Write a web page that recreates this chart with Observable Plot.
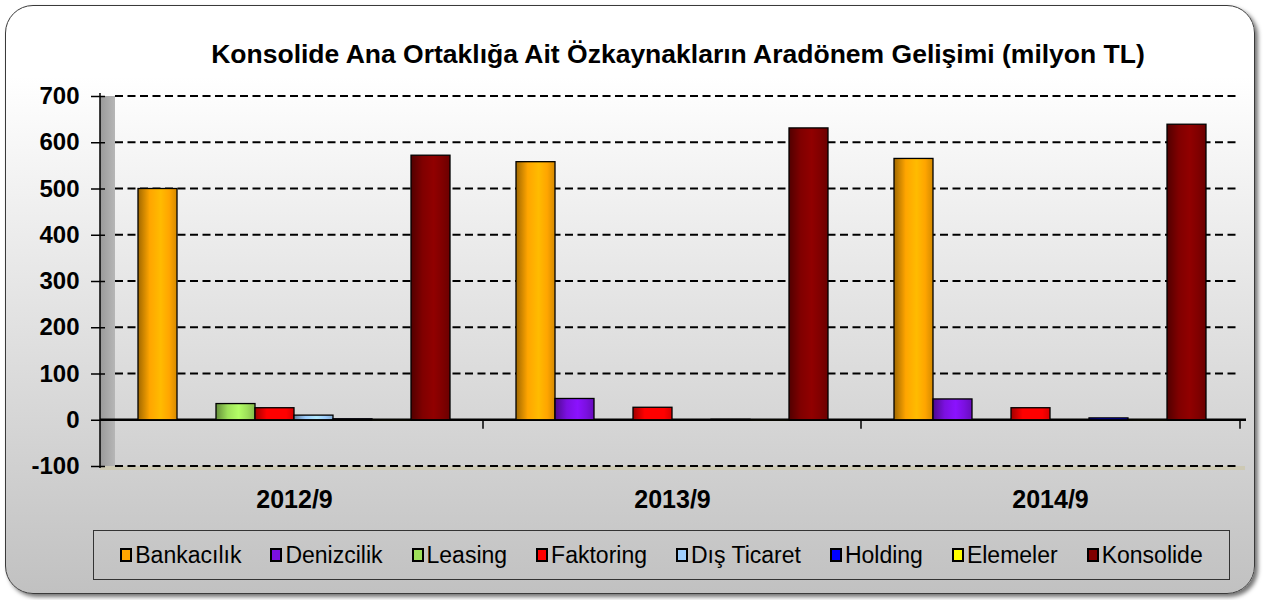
<!DOCTYPE html>
<html>
<head>
<meta charset="utf-8">
<script src="https://cdn.jsdelivr.net/npm/d3@7"></script>
<script src="https://cdn.jsdelivr.net/npm/@observablehq/plot@0.6"></script>
<style>
  html, body { margin: 0; padding: 0; background: #ffffff; }
  #wrap { position: relative; width: 1266px; height: 600px; overflow: hidden; font-family: "Liberation Sans", Arial, sans-serif; }
  #panel { position: absolute; left: 5px; top: 5px; width: 1250px; height: 589px; box-sizing: border-box;
           border: 1.5px solid #3a3a3a; border-radius: 28px;
           background: linear-gradient(180deg, #ffffff 0%, #ffffff 12%, #c1c1c1 100%);
           box-shadow: 3px 3px 4px rgba(0,0,0,0.55); }
  #chart { position: absolute; left: 0; top: 0; }
  #title { position: absolute; left: 178px; width: 1000px; top: 41px; text-align: center;
           font-size: 26.5px; line-height: 26px; font-weight: bold; color: #000; white-space: nowrap; }
  #legend { position: absolute; left: 93px; top: 530px; width: 1137px; height: 50px; box-sizing: border-box;
            border: 1.3px solid #333; display: flex; align-items: center; justify-content: center; gap: 29px; }
  .item { display: flex; align-items: center; font-size: 23px; color: #000; white-space: nowrap; }
  .sw { width: 8px; height: 10px; border: 2px solid #000; margin-right: 3px; }
</style>
</head>
<body>
<div id="wrap">
  <div id="panel"></div>
  <div id="chart"></div>
  <div id="title">Konsolide Ana Ortaklığa Ait Özkaynakların Aradönem Gelişimi (milyon TL)</div>
  <div id="legend"></div>
</div>
<script>
const periods = ["2012/9", "2013/9", "2014/9"];
const series = ["Bankacılık", "Denizcilik", "Leasing", "Faktoring", "Dış Ticaret", "Holding", "Elemeler", "Konsolide"];
const bankacilik = [500, 558, 565];
const denizcilik = [0, 46, 45];
const leasing = [35, 0, 0];
const faktoring = [26, 27, 26];
const disTicaret = [10, 0, 0];
const holding = [2, 1, 4];
const elemeler = [-1, -1, -1];
const konsolide = [572, 631, 639];
const yTicks = [-100, 0, 100, 200, 300, 400, 500, 600, 700];
const colors = ["#ffa500", "#7b10e0", "#9ee05a", "#ff0000", "#9fcfff", "#0000ff", "#ffff00", "#800000"];

const seriesValues = [bankacilik, denizcilik, leasing, faktoring, disTicaret, holding, elemeler, konsolide];
const data = series.flatMap((s, i) => periods.map((p, j) => ({series: s, period: p, value: seriesValues[i][j]})))
  .filter(d => d.value !== 0);

const font = "Liberation Sans, Arial, sans-serif";
const chart = Plot.plot({
  width: 1266,
  height: 600,
  marginTop: 96,
  marginBottom: 134,
  marginLeft: 104,
  marginRight: 26,
  style: {fontFamily: font, background: "transparent", color: "#000"},
  fx: {domain: periods, padding: 0, label: null},
  x: {domain: series, paddingInner: 0, paddingOuter: 0.74, axis: null},
  y: {domain: [-100, 700], label: null},
  color: {domain: series, range: colors},
  marks: [
    Plot.axisY(yTicks, {anchor: "left", tickSize: 14, tickPadding: 12, fontSize: 24, fontWeight: "bold", strokeWidth: 1.5, label: null, tickFormat: d => String(d)}),
    Plot.axisFx({anchor: "bottom", tickSize: 0, tickPadding: 24, fontSize: 25, fontWeight: "bold", label: null}),
    Plot.barY(data, {fx: "period", x: "series", y: "value", fill: "series", stroke: "#000", strokeWidth: 1.3})
  ]
});
document.getElementById("chart").appendChild(chart);

// decorations using the plot's own scales
const svg = d3.select(chart);
const ys = chart.scale("y");
const fxs = chart.scale("fx");
const y = v => ys.apply(v);
const left = 104, right = 1240, wall = 11;

const defs = svg.insert("defs", ":first-child");
const wallGrad = defs.append("linearGradient").attr("id", "wallGrad").attr("x1", 0).attr("x2", 1).attr("y1", 0).attr("y2", 0);
wallGrad.append("stop").attr("offset", "0%").attr("stop-color", "#9a9a9a");
wallGrad.append("stop").attr("offset", "100%").attr("stop-color", "#b6b6b6");
colors.forEach((c, i) => {
  const g = defs.append("linearGradient").attr("id", "bg" + i).attr("x1", 0).attr("x2", 1).attr("y1", 0).attr("y2", 0);
  const base = d3.color(c);
  g.append("stop").attr("offset", "0%").attr("stop-color", base.darker(1.3).formatHex());
  g.append("stop").attr("offset", "30%").attr("stop-color", base.formatHex());
  g.append("stop").attr("offset", "58%").attr("stop-color", base.brighter(0.35).formatHex());
  g.append("stop").attr("offset", "80%").attr("stop-color", base.formatHex());
  g.append("stop").attr("offset", "100%").attr("stop-color", base.darker(0.5).formatHex());
});

const deco = svg.insert("g", "g").attr("class", "deco");
// floor strip below -100
deco.append("rect").attr("x", left - 4).attr("y", y(-100)).attr("width", right - left + 9).attr("height", 4).attr("fill", "#cdc9b4");
// left wall
deco.append("rect").attr("x", left - 4).attr("y", y(700)).attr("width", wall + 4).attr("height", y(-100) - y(700)).attr("fill", "url(#wallGrad)");
deco.append("line").attr("x1", left - 4).attr("x2", left - 4).attr("y1", y(700) - 3).attr("y2", y(-100) + 2).attr("stroke", "#000").attr("stroke-width", 1.5);
// dashed gridlines
yTicks.filter(t => t !== 0).forEach(t => {
  deco.append("line").attr("x1", left + wall).attr("x2", right).attr("y1", y(t)).attr("y2", y(t))
    .attr("stroke", "#000").attr("stroke-width", 2.2).attr("stroke-dasharray", "8,4.5");
});
// zero baseline
deco.append("line").attr("x1", left - 4).attr("x2", right + 6).attr("y1", y(0)).attr("y2", y(0)).attr("stroke", "#000").attr("stroke-width", 2.5);
// group boundary ticks
const bounds = periods.slice(1).map(p => fxs.apply(p)).concat([right]);
bounds.forEach(bx => {
  deco.append("line").attr("x1", bx).attr("x2", bx).attr("y1", y(0)).attr("y2", y(0) + 9).attr("stroke", "#000").attr("stroke-width", 1.5);
});

// shaded bar fills
svg.selectAll("g[aria-label='bar'] rect").each(function() {
  const f = (this.getAttribute("fill") || "").toLowerCase();
  const i = colors.indexOf(f);
  if (i >= 0) this.setAttribute("fill", "url(#bg" + i + ")");
});

// legend
const legend = d3.select("#legend");
series.forEach((s, i) => {
  const it = legend.append("div").attr("class", "item");
  it.append("div").attr("class", "sw").style("background", colors[i]);
  it.append("span").text(s);
});
</script>
</body>
</html>
